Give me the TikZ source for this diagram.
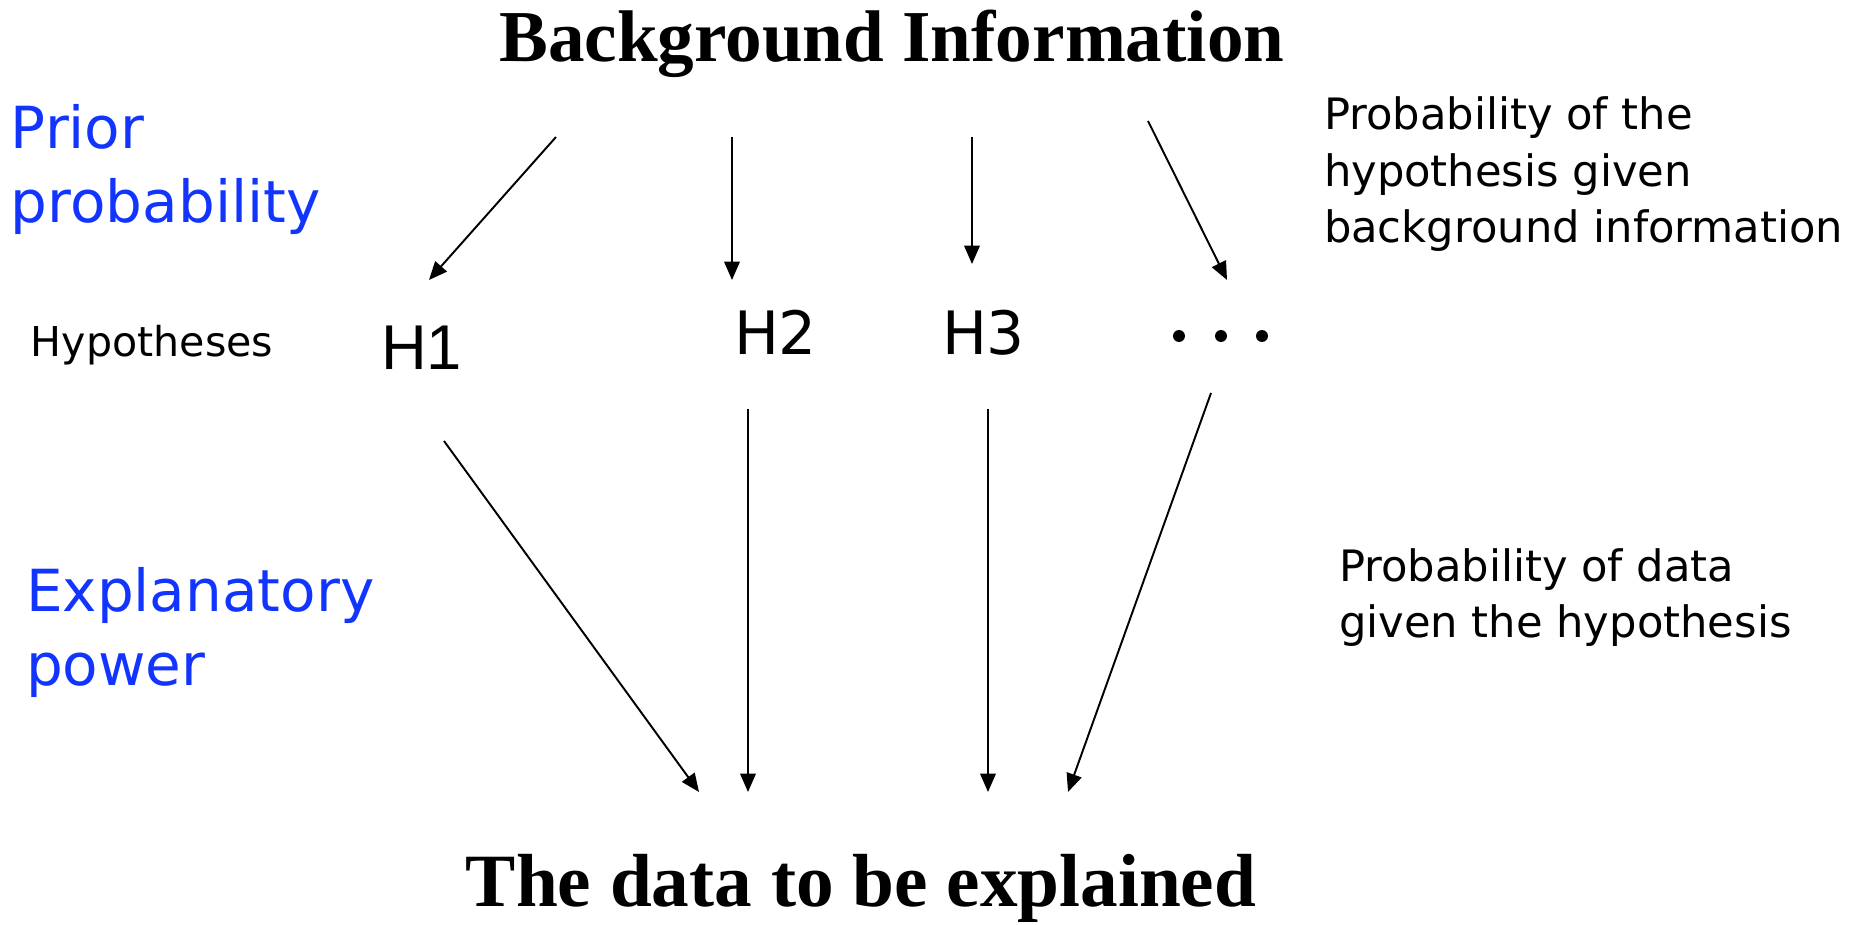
\documentclass[tikz,border=0pt]{standalone}
\usepackage{fontspec}
\usetikzlibrary{arrows.meta}

\newfontfamily\titlefont{Liberation Serif}
\newfontfamily\labelfont{DejaVu Sans}
\newfontfamily\hypfont{Liberation Sans}
\definecolor{termblue}{RGB}{18,52,255}

\begin{document}
\begin{tikzpicture}[
    % pixel-like units, y pointing down
    x={(0.01cm,0cm)},
    y={(0cm,-0.01cm)},
    >={Triangle[length=5.2pt,width=4.4pt]},
    every node/.style={inner sep=0pt, outer sep=0pt},
    title/.style={font=\titlefont\bfseries\fontsize{20.8}{24}\selectfont, anchor=base},
    term/.style={font=\labelfont\fontsize{16.5}{21.3}\selectfont, text=termblue, align=left, anchor=base west},
    note/.style={font=\labelfont\fontsize{12.3}{16.2}\selectfont, align=left, anchor=base west},
    hyp/.style={font=\labelfont\fontsize{17}{20}\selectfont, anchor=base west},
    link/.style={->, line width=0.55pt}
]
    \useasboundingbox (0,0) rectangle (1862,925);

    % --- Text (multi-line nodes sit on their last baseline) ---
    \node[title] (bg) at (892,62) {Background Information};
    \node[title, font=\titlefont\bfseries\fontsize{21.4}{24}\selectfont] (data) at (861,907) {The data to be explained};

    \node[term] (prior) at (11,223) {Prior\\probability};
    \node[term] (expl) at (26,686) {Explanatory\\power};

    \node[note, font=\labelfont\fontsize{11.7}{14}\selectfont] (hyps) at (31,357) {Hypotheses};
    \node[hyp, font=\hypfont\fontsize{18}{20}\selectfont] (h1) at (381,370) {H1};
    \node[hyp] (h2) at (734,355) {H2};
    \node[hyp] (h3) at (942,355) {H3};
    \node (dots) at (1221,336) {};
    \foreach \x in {-42,0,41}
        \fill ([xshift=\x*0.01cm]dots) circle (1.7pt);

    \node[note] (bgprob) at (1324,243) {Probability of the\\hypothesis given\\background information};
    \node[note] (dataprob) at (1339,638) {Probability of data\\given the hypothesis};

    % --- Arrow ends ---
    \coordinate (bg1) at (556,137);
    \coordinate (bg2) at (732,137);
    \coordinate (bg3) at (972,137);
    \coordinate (bg4) at (1148,121);

    \coordinate (h1in) at (429,280);
    \coordinate (h2in) at (732,280);
    \coordinate (h3in) at (972,264);
    \coordinate (dotsin) at (1227,280);

    \coordinate (h1out) at (444,441);
    \coordinate (h2out) at (748,409);
    \coordinate (h3out) at (988,409);
    \coordinate (dotsout) at (1211,393);

    \coordinate (d1) at (699,792);
    \coordinate (d2) at (748,792);
    \coordinate (d3) at (988,792);
    \coordinate (d4) at (1068,792);

    % background -> hypotheses
    \draw[link] (bg1) -- (h1in);
    \draw[link] (bg2) -- (h2in);
    \draw[link] (bg3) -- (h3in);
    \draw[link] (bg4) -- (dotsin);

    % hypotheses -> data
    \draw[link] (h1out) -- (d1);
    \draw[link] (h2out) -- (d2);
    \draw[link] (h3out) -- (d3);
    \draw[link] (dotsout) -- (d4);
\end{tikzpicture}
\end{document}
